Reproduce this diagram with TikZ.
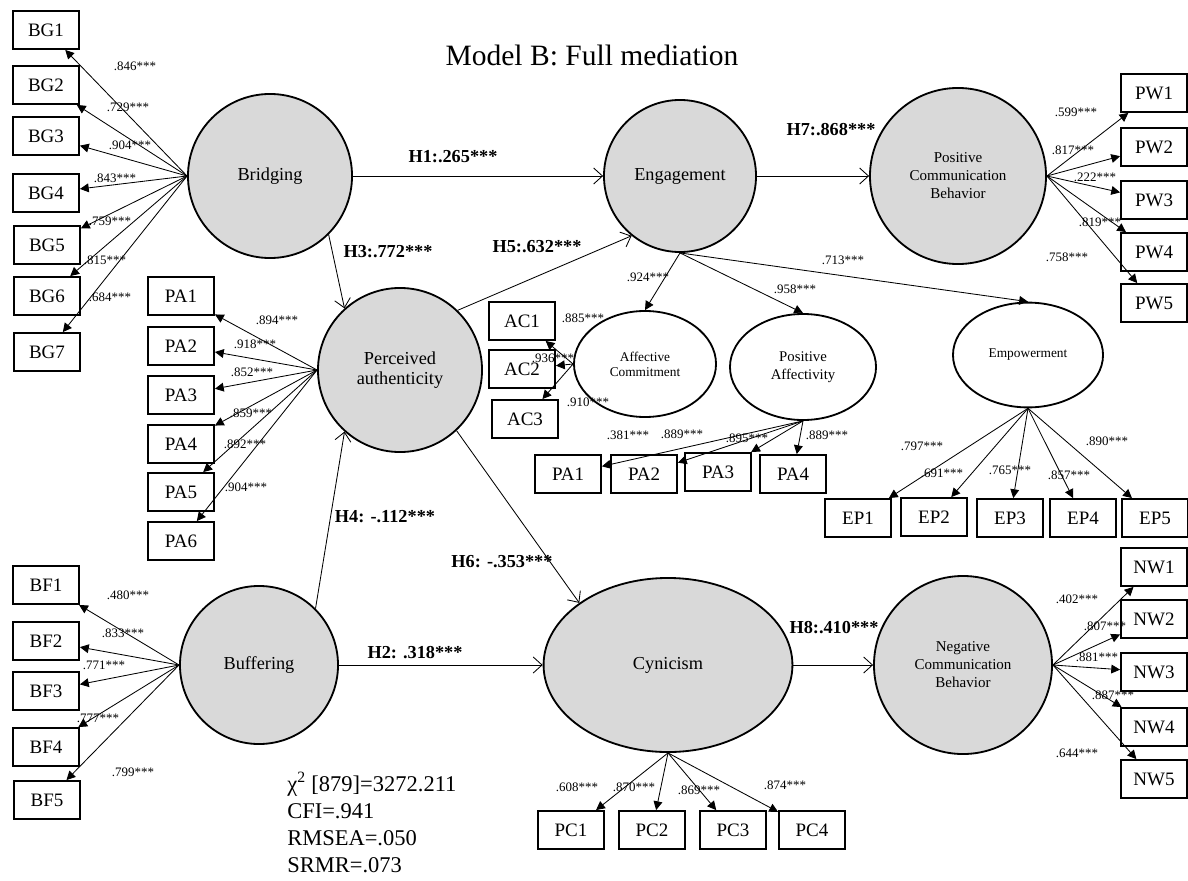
\documentclass[tikz,border=0pt]{standalone}
\usepackage{fontspec}
\setmainfont{Liberation Serif}
\usetikzlibrary{arrows.meta,shapes.geometric}

\begin{document}
\begin{tikzpicture}[
  x=0.025cm, y=-0.025cm,
  indic/.style={draw,line width=1.3pt,minimum width=1.65cm,minimum height=0.95cm,inner sep=0pt,font=\fontsize{13.5}{15}\selectfont},
  latent/.style={draw,line width=1.3pt,circle,fill=gray!30,align=center,inner sep=0pt,font=\fontsize{13}{14}\selectfont},
  factor/.style={draw,line width=1.3pt,ellipse,align=center,inner sep=0pt,font=\fontsize{9.5}{10.7}\selectfont},
  loading/.style={-{Triangle[length=2.2mm,width=2.2mm]},line width=0.6pt},
  struct/.style={-{Straight Barb[length=2.2mm,width=4mm]},line width=0.6pt},
  coef/.style={inner sep=0pt,font=\fontsize{9.2}{10}\selectfont},
  hyp/.style={inner sep=0pt,font=\fontsize{13}{15}\selectfont\bfseries},
]
\useasboundingbox (0,0) rectangle (1188,880);

\node[font=\fontsize{21}{24}\selectfont] (title) at (592,55) {Model B: Full mediation};

% latent variables
\node[latent,minimum size=4.1cm] (bridging) at (270,176) {Bridging};
\node[latent,minimum size=4.1cm] (percauth) at (400,370) {Perceived\\authenticity};
\node[latent,minimum size=3.95cm] (buffering) at (259,665) {Buffering};
\node[latent,minimum size=3.8cm] (engagement) at (680,176) {Engagement};
\node[latent,minimum size=4.4cm,font=\fontsize{10.7}{12.8}\selectfont] (poscomm) at (958,176) {Positive\\Communication\\Behavior};
\node[latent,ellipse,minimum width=6.22cm,minimum height=4.35cm] (cynicism) at (668,665) {Cynicism};
\node[latent,minimum size=4.45cm,font=\fontsize{10.7}{12.8}\selectfont] (negcomm) at (963,665) {Negative\\Communication\\Behavior};

% first-order factors of engagement
\node[factor,minimum width=3.55cm,minimum height=2.65cm] (affcom) at (645,364) {Affective\\Commitment};
\node[factor,minimum width=3.65cm,minimum height=2.65cm,font=\fontsize{10.5}{12.8}\selectfont] (posaff) at (803,367) {Positive\\Affectivity};
\node[factor,minimum width=3.75cm,minimum height=2.62cm] (empower) at (1028,355) {Empowerment};

% indicators
\node[indic] (BG1) at (46,30) {BG1};
\node[indic] (BG2) at (46,85) {BG2};
\node[indic] (BG3) at (46,136) {BG3};
\node[indic] (BG4) at (46,193) {BG4};
\node[indic] (BG5) at (47,245) {BG5};
\node[indic] (BG6) at (47,296) {BG6};
\node[indic] (BG7) at (47,352) {BG7};

\node[indic] (PA1) at (181,296) {PA1};
\node[indic] (PA2) at (181,346) {PA2};
\node[indic] (PA3) at (181,395) {PA3};
\node[indic] (PA4) at (181,444) {PA4};
\node[indic] (PA5) at (181,492) {PA5};
\node[indic] (PA6) at (181,541) {PA6};

\node[indic] (BF1) at (46,585) {BF1};
\node[indic] (BF2) at (46,641) {BF2};
\node[indic] (BF3) at (46,691) {BF3};
\node[indic] (BF4) at (46,747) {BF4};
\node[indic] (BF5) at (47,800) {BF5};

\node[indic] (AC1) at (522,321) {AC1};
\node[indic] (AC2) at (522,369) {AC2};
\node[indic] (AC3) at (525,419) {AC3};

\node[indic] (PF1) at (568,474) {PA1};
\node[indic] (PF2) at (644,474) {PA2};
\node[indic] (PF3) at (718,472) {PA3};
\node[indic] (PF4) at (793,474) {PA4};

\node[indic] (EP1) at (858,518) {EP1};
\node[indic] (EP2) at (934,517) {EP2};
\node[indic] (EP3) at (1010,518) {EP3};
\node[indic] (EP4) at (1083,518) {EP4};
\node[indic] (EP5) at (1155,518) {EP5};

\node[indic] (PW1) at (1154,93) {PW1};
\node[indic] (PW2) at (1154,147) {PW2};
\node[indic] (PW3) at (1154,200) {PW3};
\node[indic] (PW4) at (1154,252) {PW4};
\node[indic] (PW5) at (1154,303) {PW5};

\node[indic] (NW1) at (1154,567) {NW1};
\node[indic] (NW2) at (1154,619) {NW2};
\node[indic] (NW3) at (1154,672) {NW3};
\node[indic] (NW4) at (1154,727) {NW4};
\node[indic] (NW5) at (1154,779) {NW5};

\node[indic] (PC1) at (571,830) {PC1};
\node[indic] (PC2) at (652,830) {PC2};
\node[indic] (PC3) at (733,830) {PC3};
\node[indic] (PC4) at (812,830) {PC4};

% structural paths
\draw[struct] (bridging) -- (engagement) node[hyp] at (453,157) {H1:.265***};
\draw[struct] (buffering) -- (cynicism) node[hyp] at (415,653) {H2: .318***};
\draw[struct] (bridging.-45) -- (percauth.132) node[hyp] at (388,252) {H3:.772***};
\draw[struct] (buffering.45) -- (percauth.228) node[hyp] at (385,517) {H4: -.112***};
\draw[struct] (percauth.46) -- (engagement.231) node[hyp] at (537,247) {H5:.632***};
\draw[struct] (percauth.-47) -- (cynicism.145) node[hyp] at (502,562) {H6: -.353***};
\draw[struct] (engagement) -- (poscomm) node[hyp] at (831,130) {H7:.868***};
\draw[struct] (cynicism) -- (negcomm) node[hyp] at (834,628) {H8:.410***};

% engagement dimensions
\draw[loading] (engagement.south) -- (affcom.north) node[coef] at (648,277) {.924***};
\draw[loading] (engagement.south) -- (posaff.north) node[coef] at (795,289) {.958***};
\draw[loading] (engagement.south) -- (empower.north) node[coef] at (843,260) {.713***};

% loadings
\draw[loading] (bridging.west) -- (BG1) node[coef] at (135,66) {.846***};
\draw[loading] (bridging.west) -- (BG2) node[coef] at (128,107) {.729***};
\draw[loading] (bridging.west) -- (BG3) node[coef] at (130,145) {.904***};
\draw[loading] (bridging.west) -- (BG4) node[coef] at (115,178) {.843***};
\draw[loading] (bridging.west) -- (BG5) node[coef] at (110,221) {.759***};
\draw[loading] (bridging.west) -- (BG6) node[coef] at (105,260) {.815***};
\draw[loading] (bridging.west) -- (BG7) node[coef] at (110,297) {.684***};

\draw[loading] (percauth.west) -- (PA1) node[coef] at (277,320) {.894***};
\draw[loading] (percauth.west) -- (PA2) node[coef] at (255,344) {.918***};
\draw[loading] (percauth.west) -- (PA3) node[coef] at (252,372) {.852***};
\draw[loading] (percauth.west) -- (PA4) node[coef] at (251,413) {.859***};
\draw[loading] (percauth.west) -- (PA5) node[coef] at (245,444) {.892***};
\draw[loading] (percauth.west) -- (PA6) node[coef] at (246,487) {.904***};

\draw[loading] (buffering.west) -- (BF1) node[coef] at (128,595) {.480***};
\draw[loading] (buffering.west) -- (BF2) node[coef] at (123,633) {.833***};
\draw[loading] (buffering.west) -- (BF3) node[coef] at (104,665) {.771***};
\draw[loading] (buffering.west) -- (BF4) node[coef] at (98,718) {.777***};
\draw[loading] (buffering.west) -- (BF5) node[coef] at (133,772) {.799***};

\draw[loading] (affcom.west) -- (AC1) node[coef] at (583,318) {.885***};
\draw[loading] (affcom.west) -- (AC2) node[coef] at (553,358) {.936***};
\draw[loading] (affcom.west) -- (AC3) node[coef] at (588,402) {.910***};

\draw[loading] (posaff.south) -- (PF1) node[coef] at (628,435) {.381***};
\draw[loading] (posaff.south) -- (PF2) node[coef] at (682,434) {.889***};
\draw[loading] (posaff.south) -- (PF3) node[coef] at (747,438) {.895***};
\draw[loading] (posaff.south) -- (PF4) node[coef] at (827,435) {.889***};

\draw[loading] (empower.south) -- (EP1) node[coef] at (922,446) {.797***};
\draw[loading] (empower.south) -- (EP2) node[coef] at (942,473) {.691***};
\draw[loading] (empower.south) -- (EP3) node[coef] at (1010,470) {.765***};
\draw[loading] (empower.south) -- (EP4) node[coef] at (1069,475) {.857***};
\draw[loading] (empower.south) -- (EP5) node[coef] at (1107,441) {.890***};

\draw[loading] (poscomm.east) -- (PW1) node[coef] at (1076,112) {.599***};
\draw[loading] (poscomm.east) -- (PW2) node[coef] at (1073,150) {.817***};
\draw[loading] (poscomm.east) -- (PW3) node[coef] at (1095,177) {.222***};
\draw[loading] (poscomm.east) -- (PW4) node[coef] at (1100,222) {.819***};
\draw[loading] (poscomm.east) -- (PW5) node[coef] at (1067,257) {.758***};

\draw[loading] (negcomm.east) -- (NW1) node[coef] at (1077,599) {.402***};
\draw[loading] (negcomm.east) -- (NW2) node[coef] at (1105,626) {.807***};
\draw[loading] (negcomm.east) -- (NW3) node[coef] at (1097,657) {.881***};
\draw[loading] (negcomm.east) -- (NW4) node[coef] at (1113,695) {.887***};
\draw[loading] (negcomm.east) -- (NW5) node[coef] at (1077,753) {.644***};

\draw[loading] (cynicism.south) -- (PC1) node[coef] at (577,787) {.608***};
\draw[loading] (cynicism.south) -- (PC2) node[coef] at (634,787) {.870***};
\draw[loading] (cynicism.south) -- (PC3) node[coef] at (699,790) {.869***};
\draw[loading] (cynicism.south) -- (PC4) node[coef] at (785,785) {.874***};

% fit indices
\node[anchor=north west,align=left,inner sep=0pt,font=\fontsize{16}{19.2}\selectfont] (fitstats) at (287,772)
  {χ\textsuperscript{2} [879]=3272.211\\CFI=.941\\RMSEA=.050\\SRMR=.073};
\end{tikzpicture}
\end{document}
